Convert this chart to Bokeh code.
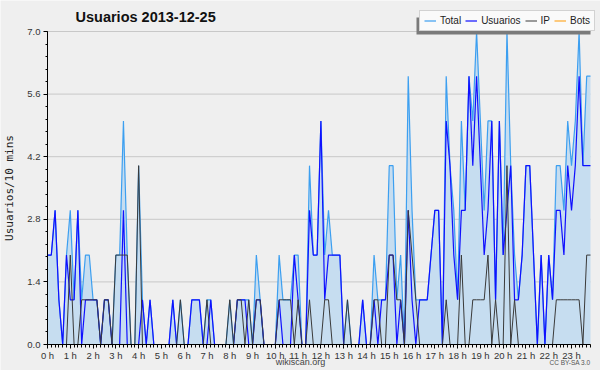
import math
from bokeh.plotting import figure
from bokeh.models import (Range1d, FixedTicker, Legend, LegendItem, Label, ColumnDataSource,
                          PrintfTickFormatter, BoxAnnotation)
from bokeh.embed import file_html
from bokeh.resources import INLINE

# ---- data (one value per 10-minute slot, 144 slots) ----
hour_labels = ["0 h", "1 h", "2 h", "3 h", "4 h", "5 h", "6 h", "7 h", "8 h", "9 h", "10 h", "11 h",
               "12 h", "13 h", "14 h", "15 h", "16 h", "17 h", "18 h", "19 h", "20 h", "21 h", "22 h", "23 h"]
y_ticks = [0.0, 1.4, 2.8, 4.2, 5.6, 7.0]

total = [2, 2, 3, 1, 0, 2, 3, 1, 3, 1,
         2, 2, 1, 1, 0, 1, 1, 0, 2, 2,
         5, 2, 0, 0, 4, 1, 0, 1, 0, 0,
         0, 0, 0, 1, 0, 1, 0, 0, 1, 1,
         1, 0, 1, 1, 0, 0, 0, 0, 1, 0,
         1, 1, 1, 1, 0, 2, 1, 0, 0, 0,
         0, 2, 1, 1, 1, 2, 2, 0, 0, 4,
         2, 2, 5, 2, 3, 2, 2, 2, 0, 1,
         0, 0, 0, 1, 0, 0, 2, 1, 1, 1,
         4, 4, 1, 2, 0, 6, 3, 1, 1, 1,
         1, 2, 3, 3, 0, 6, 4, 3, 1, 5,
         3, 6, 5, 7, 5, 3, 5, 5, 1, 5,
         2, 7, 4, 2, 1, 2, 4, 4, 2, 0,
         2, 0, 2, 1, 4, 4, 3, 5, 4, 5,
         7, 4, 6, 6]

usuarios = [2, 2, 3, 1, 0, 2, 1, 1, 3, 0,
            1, 1, 1, 1, 0, 1, 1, 0, 0, 0,
            3, 0, 0, 0, 0, 1, 0, 1, 0, 0,
            0, 0, 0, 1, 0, 0, 0, 0, 1, 1,
            1, 0, 0, 1, 0, 0, 0, 0, 0, 0,
            1, 1, 1, 0, 0, 1, 1, 0, 0, 0,
            0, 1, 0, 0, 0, 2, 1, 0, 0, 3,
            2, 2, 5, 1, 2, 2, 2, 2, 0, 0,
            0, 0, 0, 1, 0, 0, 1, 0, 1, 1,
            2, 2, 0, 1, 0, 3, 1, 0, 1, 1,
            1, 2, 3, 3, 0, 5, 4, 2, 1, 3,
            3, 6, 4, 6, 4, 2, 3, 5, 1, 5,
            2, 3, 4, 1, 1, 2, 4, 4, 2, 0,
            2, 0, 2, 1, 3, 3, 2, 4, 3, 4,
            6, 4, 4, 4]

ip = [0, 0, 0, 0, 0, 0, 2, 0, 0, 1,
      1, 1, 1, 1, 0, 1, 1, 0, 2, 2,
      2, 2, 0, 0, 4, 0, 0, 0, 0, 0,
      0, 0, 0, 0, 0, 1, 0, 0, 0, 0,
      0, 0, 1, 0, 0, 0, 0, 0, 1, 0,
      1, 1, 0, 1, 0, 1, 1, 0, 0, 0,
      0, 1, 1, 1, 1, 0, 1, 0, 0, 1,
      0, 0, 0, 1, 1, 0, 0, 0, 0, 1,
      0, 0, 0, 0, 0, 0, 1, 1, 0, 0,
      2, 2, 1, 1, 0, 3, 2, 1, 0, 0,
      0, 0, 0, 0, 0, 1, 0, 0, 0, 2,
      0, 0, 1, 1, 1, 1, 2, 0, 1, 0,
      0, 4, 0, 1, 0, 0, 0, 0, 0, 0,
      0, 0, 0, 0, 1, 1, 1, 1, 1, 1,
      1, 0, 2, 2]

bots = [0, 0, 0, 0, 0, 0, 0, 0, 0, 0,
        0, 0, 0, 0, 0, 0, 0, 0, 0, 0,
        0, 0, 0, 0, 0, 0, 0, 0, 0, 0,
        0, 0, 0, 0, 0, 0, 0, 0, 0, 0,
        0, 0, 0, 0, 0, 0, 0, 0, 0, 0,
        0, 0, 0, 0, 0, 0, 0, 0, 0, 0,
        0, 0, 0, 0, 0, 0, 0, 0, 0, 0,
        0, 0, 0, 0, 0, 0, 0, 0, 0, 0,
        0, 0, 0, 0, 0, 0, 0, 0, 0, 0,
        0, 0, 0, 0, 0, 0, 0, 0, 0, 0,
        0, 0, 0, 0, 0, 0, 0, 0, 0, 0,
        0, 0, 0, 0, 0, 0, 0, 0, 0, 0,
        0, 0, 0, 0, 0, 0, 0, 0, 0, 0,
        0, 0, 0, 0, 0, 0, 0, 0, 0, 0,
        0, 0, 0, 0]

slots = list(range(len(total)))          # 10-minute slot index
slots_per_hour = 6
y_max = y_ticks[-1]

# ---- layout (pixels in the 600x370 canvas) ----
W, H = 600, 370
AX_LEFT, AX_RIGHT, AX_TOP, AX_BOTTOM = 47, 590, 31, 344
x_ppu = (AX_RIGHT - AX_LEFT) / (slots[-1] - slots[0])
y_ppu = (AX_BOTTOM - AX_TOP) / y_max
x_range = Range1d(slots[0] - AX_LEFT / x_ppu, slots[-1] + (W - AX_RIGHT) / x_ppu)
y_range = Range1d(-(H - AX_BOTTOM) / y_ppu, y_max + AX_TOP / y_ppu)

src = ColumnDataSource(dict(x=slots, total=total, usuarios=usuarios, ip=ip, bots=bots))

BG = "#efefef"
p = figure(width=W, height=H, output_backend="svg", toolbar_location=None, title=None,
           x_range=x_range, y_range=y_range, min_border=0)
p.background_fill_color = BG
p.border_fill_color = BG
p.outline_line_color = None
p.grid.visible = False

# horizontal grid lines limited to the plotting area
p.segment(x0=slots[0], x1=slots[-1], y0=y_ticks, y1=y_ticks, line_color="#c8c8c8", line_width=1)

# series
r_bots = p.line("x", "bots", source=src, line_color="#ff9900", line_width=1)
p.varea(x="x", y1=0, y2="total", source=src, fill_color="#c6ddf0")
r_total = p.line("x", "total", source=src, line_color="#3c9ff0", line_width=1.2)
r_usu = p.line("x", "usuarios", source=src, line_color="#1010ff", line_width=1.2)
r_ip = p.line("x", "ip", source=src, line_color="#3a3a3a", line_width=1)

# axes, fixed at the data origin
hour_pos = [h * slots_per_hour for h in range(len(hour_labels))]
xa, ya = p.xaxis[0], p.yaxis[0]
xa.fixed_location = 0
ya.fixed_location = 0
xa.bounds = (slots[0], slots[-1])
ya.bounds = (0, y_max)
xa.ticker = FixedTicker(ticks=hour_pos, minor_ticks=slots)
xa.major_label_overrides = {pos: lab for pos, lab in zip(hour_pos, hour_labels)}
ya.ticker = FixedTicker(ticks=y_ticks, minor_ticks=[k * 0.28 for k in range(26)])
ya.formatter = PrintfTickFormatter(format="%.1f")

for ax in (xa, ya):
    ax.axis_line_color = "black"
    ax.major_tick_line_color = "black"
    ax.minor_tick_line_color = "black"
    ax.major_tick_in = 0
    ax.minor_tick_in = 0
    ax.major_label_text_font = "Liberation Sans"
    ax.major_label_text_font_size = "9.5px"
    ax.major_label_text_color = "#333333"
xa.major_tick_out = 4
xa.minor_tick_out = 3
xa.major_label_standoff = 1
ya.major_tick_out = 4
ya.minor_tick_out = 2
ya.major_label_standoff = 3

# texts (screen units: from the canvas' bottom-left corner)
p.add_layout(Label(x=75, y=H - 16, x_units="screen", y_units="screen", text="Usuarios  2013-12-25",
                   text_font="Liberation Sans", text_font_style="bold", text_font_size="14.5px",
                   text_baseline="middle", text_align="left", text_color="#111111"))
p.add_layout(Label(x=9, y=H - (AX_TOP + AX_BOTTOM) / 2, x_units="screen", y_units="screen",
                   text="Usuarios/10 mins", angle=math.pi / 2,
                   text_font="DejaVu Sans Mono", text_font_size="11px",
                   text_baseline="middle", text_align="center", text_color="#222222"))
p.add_layout(Label(x=300, y=H - 361, x_units="screen", y_units="screen", text="wikiscan.org",
                   text_font="Liberation Sans", text_font_size="9px",
                   text_baseline="middle", text_align="center", text_color="#444444"))
p.add_layout(Label(x=590, y=H - 362, x_units="screen", y_units="screen", text="CC BY-SA 3.0",
                   text_font="Liberation Sans", text_font_size="6.5px",
                   text_baseline="middle", text_align="right", text_color="#555555"))

# legend with a drop shadow toward the lower left
LG_LEFT, LG_RIGHT, LG_TOP, LG_BOTTOM = 419, 593, 14, 31
p.add_layout(BoxAnnotation(left=LG_LEFT - 3, right=LG_RIGHT - 3, top=H - LG_TOP - 3, bottom=H - LG_BOTTOM - 3,
                           left_units="screen", right_units="screen", top_units="screen", bottom_units="screen",
                           fill_color="#7a7a7a", fill_alpha=1, line_color=None))
legend = Legend(items=[LegendItem(label="Total", renderers=[r_total]),
                       LegendItem(label="Usuarios", renderers=[r_usu]),
                       LegendItem(label="IP", renderers=[r_ip]),
                       LegendItem(label="Bots", renderers=[r_bots])],
                orientation="horizontal", location=(LG_LEFT, H - LG_BOTTOM),
                glyph_width=12, glyph_height=9, label_standoff=4, spacing=4,
                padding=4, margin=0, label_height=9, label_width=1,
                label_text_font="Liberation Sans", label_text_font_size="10px",
                label_text_color="#222222", background_fill_color="#fafafa",
                background_fill_alpha=1, border_line_color="#aaaaaa", border_line_width=1)
p.add_layout(legend)

open("out.html", "w").write(file_html(p, INLINE))
